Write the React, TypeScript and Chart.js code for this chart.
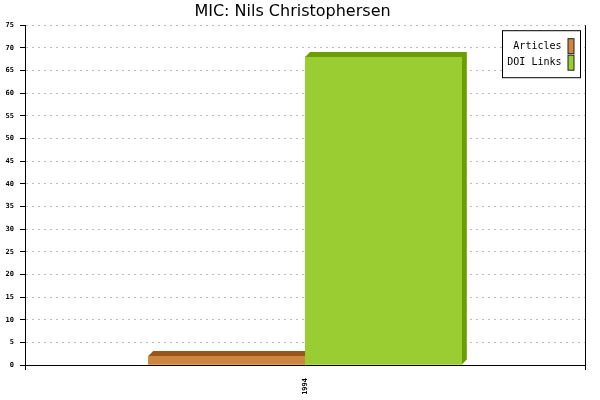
import { useEffect, useRef } from "react"
import { Chart, registerables } from "chart.js"

Chart.register(...registerables)

const categories = ["1994"]
const articles = [2]
const doiLinks = [68]
const seriesLabels = ["Articles", "DOI Links"]
const yMin = 0
const yMax = 75
const yStep = 5

const frontColors = ["#CD853F", "#9ACD32"]
const depthColors = ["#98561A", "#6B9E00"]
const DEPTH = 5

// fake 3d: top and right faces, then the front again so the next bar covers the previous one
const depthPlugin = {
  id: "depth3d",
  afterDatasetsDraw(chart: any) {
    const ctx = chart.ctx
    chart.data.datasets.forEach((ds: any, i: number) => {
      const meta = chart.getDatasetMeta(i)
      if (meta.hidden) return
      meta.data.forEach((el: any) => {
        const { x, y, base, width } = el.getProps(["x", "y", "base", "width"], true)
        const left = x - width / 2
        const right = x + width / 2
        ctx.save()
        ctx.fillStyle = ds.depthColor
        ctx.beginPath()
        ctx.moveTo(left, y)
        ctx.lineTo(left + DEPTH, y - DEPTH)
        ctx.lineTo(right + DEPTH, y - DEPTH)
        ctx.lineTo(right + DEPTH, base - DEPTH)
        ctx.lineTo(right, base)
        ctx.lineTo(right, y)
        ctx.closePath()
        ctx.fill()
        ctx.restore()
        el.draw(ctx)
      })
    })
  },
}

const boxLegendPlugin = {
  id: "boxLegend",
  afterDraw(chart: any) {
    const ctx = chart.ctx
    const area = chart.chartArea
    const w = 78
    const rowH = 16.5
    const h = 47
    const right = area.right - 4.5
    const left = right - w
    const top = area.top + 5.5
    ctx.save()
    ctx.fillStyle = "#fff"
    ctx.fillRect(left, top, w, h)
    ctx.strokeStyle = "#000"
    ctx.lineWidth = 1
    ctx.strokeRect(left, top, w, h)
    ctx.font = "10px 'DejaVu Sans Mono'"
    ctx.textAlign = "right"
    ctx.textBaseline = "middle"
    chart.data.datasets.forEach((ds: any, i: number) => {
      const cy = top + 15.5 + i * rowH
      ctx.fillStyle = "#000"
      ctx.fillText(ds.label, right - 19, cy)
      ctx.fillStyle = ds.backgroundColor
      ctx.fillRect(right - 12.5, cy - 7.5, 6, 15)
      ctx.strokeStyle = "#222"
      ctx.strokeRect(right - 12.5, cy - 7.5, 6, 15)
    })
    ctx.restore()
  },
}

export default function App() {
  const canvasRef = useRef<HTMLCanvasElement>(null)
  const chartRef = useRef<Chart | null>(null)

  useEffect(() => {
    if (!canvasRef.current) return
    if (chartRef.current) chartRef.current.destroy()
    const ctx = canvasRef.current.getContext("2d")
    if (!ctx) return

    const tickFont = { family: "'DejaVu Sans Mono'", size: 7, weight: "bold" as const }

    chartRef.current = new Chart(ctx, {
      type: "bar",
      data: {
        labels: categories,
        datasets: [
          {
            label: seriesLabels[0],
            data: articles,
            backgroundColor: frontColors[0],
            depthColor: depthColors[0],
            borderWidth: 0,
          } as any,
          {
            label: seriesLabels[1],
            data: doiLinks,
            backgroundColor: frontColors[1],
            depthColor: depthColors[1],
            borderWidth: 0,
          } as any,
        ],
      },
      options: {
        responsive: false,
        animation: false,
        layout: { padding: { left: 0, right: 15, top: 0, bottom: 0 } },
        datasets: { bar: { categoryPercentage: 0.56, barPercentage: 1 } },
        plugins: {
          legend: { display: false },
          tooltip: { enabled: false },
          title: {
            display: true,
            text: "MIC: Nils Christophersen",
            color: "#000",
            font: { family: "'DejaVu Sans'", size: 16, weight: "normal" },
            padding: { top: 2, bottom: 4 },
          },
        },
        scales: {
          x: {
            afterFit: (scale: any) => {
              scale.height = 35
            },
            grid: {
              offset: true,
              color: "#000",
              tickColor: "#000",
              tickLength: 5,
              drawOnChartArea: true,
            },
            border: { display: true, color: "#000", width: 1 },
            ticks: {
              color: "#000",
              font: tickFont,
              minRotation: 90,
              maxRotation: 90,
              padding: 8,
            },
          },
          y: {
            min: yMin,
            max: yMax,
            afterFit: (scale: any) => {
              scale.width = 25
            },
            grid: {
              color: (c: any) => (c.tick && c.tick.value === 0 ? "rgba(0,0,0,0)" : "#bdbdbd"),
              tickColor: "#000",
              tickLength: 5,
              tickBorderDash: [],
            },
            border: { display: true, color: "#000", width: 1, dash: [2, 4] },
            ticks: {
              stepSize: yStep,
              color: "#000",
              font: tickFont,
              padding: 6,
            },
          },
        },
      },
      plugins: [depthPlugin, boxLegendPlugin],
    })

    return () => {
      if (chartRef.current) {
        chartRef.current.destroy()
        chartRef.current = null
      }
    }
  }, [])

  return (
    <div style={{ position: "fixed", left: 0, top: 0, width: 600, height: 400, background: "#fff" }}>
      <canvas ref={canvasRef} width={600} height={400} />
    </div>
  )
}
